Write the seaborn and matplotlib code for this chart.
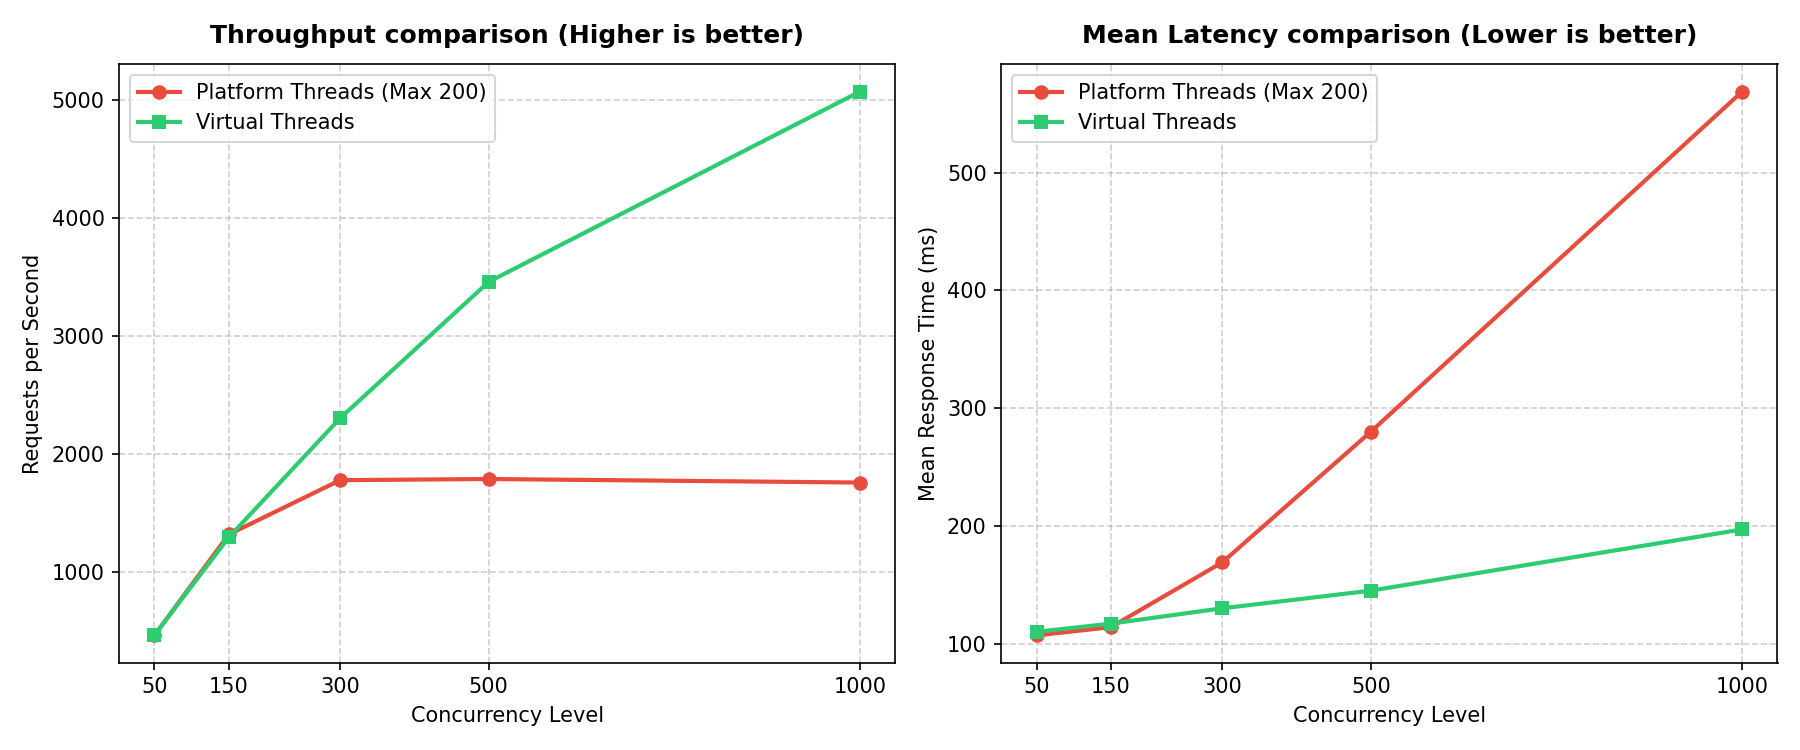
"""Platform threads vs virtual threads: throughput and mean latency."""
import matplotlib
matplotlib.use("Agg")
import matplotlib.pyplot as plt
import pandas as pd
import seaborn as sns

CONCURRENCY = [50, 150, 300, 500, 1000]

PLATFORM_RPS = [460, 1315, 1775, 1785, 1755]
VIRTUAL_RPS = [462, 1290, 2300, 3455, 5068]

PLATFORM_LATENCY = [107, 114, 169, 280, 569]
VIRTUAL_LATENCY = [110, 117, 130, 145, 197]

SERIES = ["Platform Threads (Max 200)", "Virtual Threads"]
COLORS = {SERIES[0]: "#e74c3c", SERIES[1]: "#2ecc71"}
MARKERS = {SERIES[0]: "o", SERIES[1]: "s"}


def long_table(platform, virtual, value_name):
    rows = []
    for name, values in zip(SERIES, [platform, virtual]):
        for c, v in zip(CONCURRENCY, values):
            rows.append({"concurrency": c, "series": name, value_name: v})
    return pd.DataFrame(rows)


def draw(ax, data, value_name, title, ylabel):
    sns.lineplot(
        data=data, x="concurrency", y=value_name,
        hue="series", style="series", hue_order=SERIES, style_order=SERIES,
        palette=COLORS, markers=MARKERS, dashes=False,
        linewidth=2, markersize=7, markeredgewidth=0, ax=ax,
    )
    ax.set_title(title, fontsize=12, fontweight="bold", pad=10)
    ax.set_xlabel("Concurrency Level")
    ax.set_ylabel(ylabel)
    ax.set_xticks(CONCURRENCY)
    ax.grid(True, linestyle="--", alpha=0.6)
    ax.legend(loc="upper left")


def main():
    throughput = long_table(PLATFORM_RPS, VIRTUAL_RPS, "rps")
    latency = long_table(PLATFORM_LATENCY, VIRTUAL_LATENCY, "latency")

    fig, (ax1, ax2) = plt.subplots(1, 2, figsize=(12, 5))
    draw(ax1, throughput, "rps",
         "Throughput comparison (Higher is better)", "Requests per Second")
    draw(ax2, latency, "latency",
         "Mean Latency comparison (Lower is better)", "Mean Response Time (ms)")

    fig.tight_layout()
    fig.savefig("out.png", dpi=150)
    plt.close(fig)


if __name__ == "__main__":
    main()
